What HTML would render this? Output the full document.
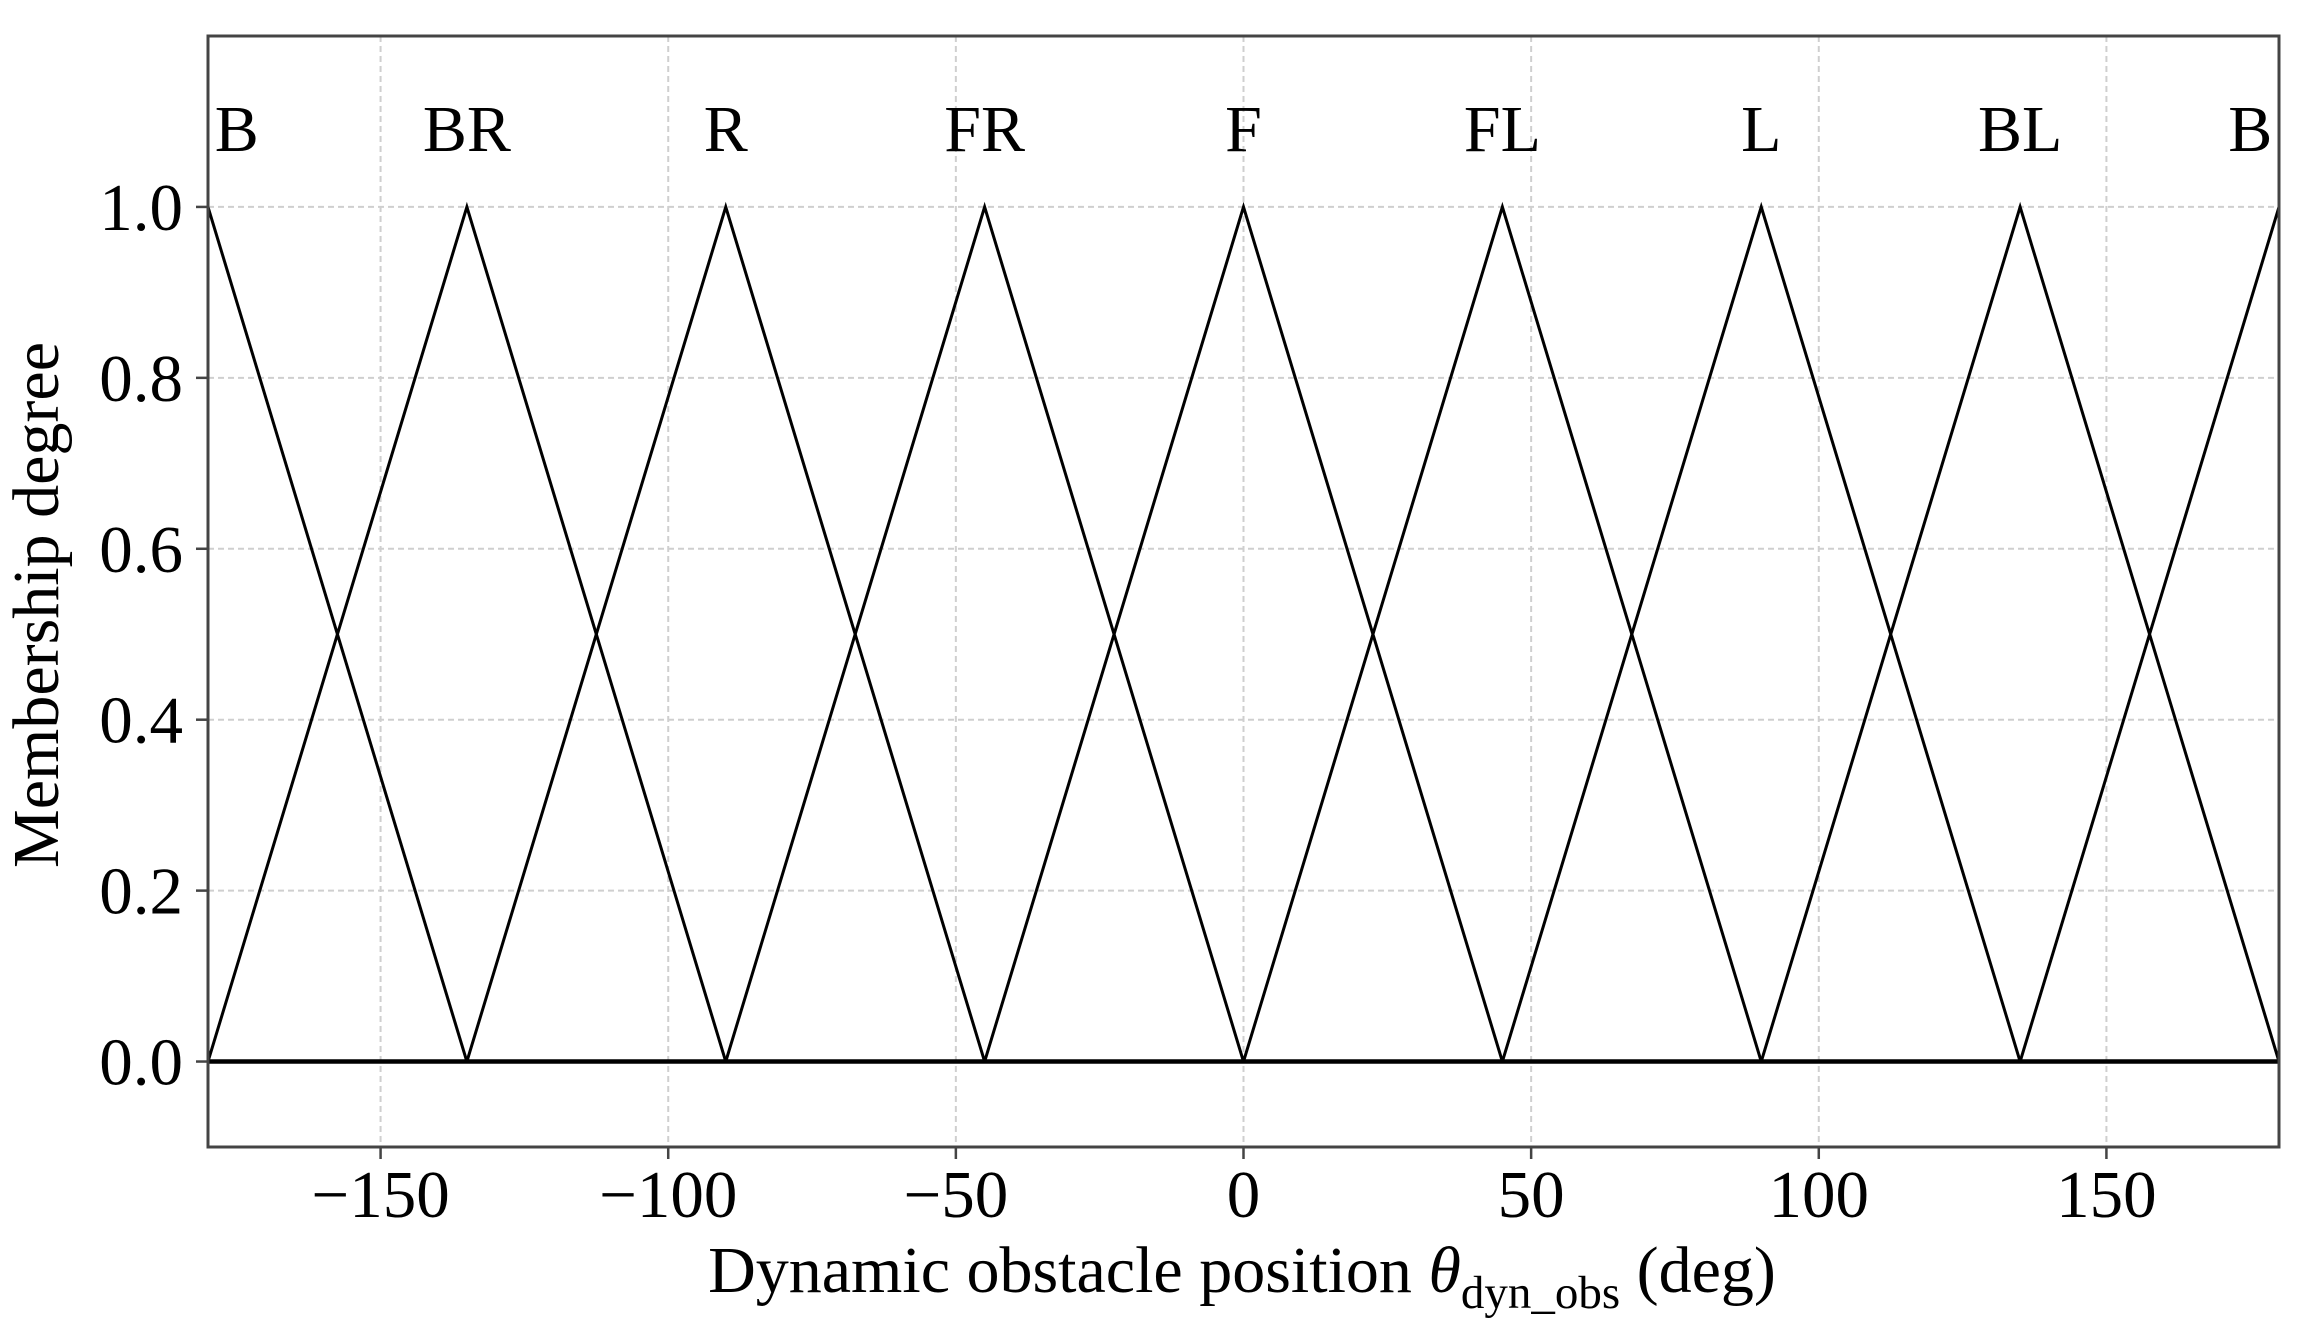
<!DOCTYPE html>
<html><head><meta charset="utf-8"><style>
html,body{margin:0;padding:0;background:#fff;}
svg{display:block;font-family:"Liberation Serif","Times New Roman",serif;}
</style></head><body>
<svg id="chart" width="2314" height="1342" viewBox="0 0 2314 1342" xmlns="http://www.w3.org/2000/svg">
<g id="grid"></g>
<g id="series"></g>
<g id="axes"></g>
<text x="1242" y="1292" font-size="66" text-anchor="middle">Dynamic obstacle position <tspan font-style="italic">θ</tspan><tspan font-size="47" dy="16">dyn_obs</tspan><tspan dy="-16"> (deg)</tspan></text>
<text transform="translate(58,605) rotate(-90)" font-size="66" text-anchor="middle">Membership degree</text>
</svg>
<script>
const labels = ["B","BR","R","FR","F","FL","L","BL","B"];
const centers = [-180,-135,-90,-45,0,45,90,135,180];
const labelPos = [-175,-135,-90,-45,0,45,90,135,175];
const halfWidth = 45;
const xTicks = [-150,-100,-50,0,50,100,150];
const yTicks = [0,0.2,0.4,0.6,0.8,1.0];
const xMin=-180,xMax=180,yMin=-0.1,yMax=1.2;
const L=208,R=2279,T=36,B=1147;
const sx=v=>L+(v-xMin)/(xMax-xMin)*(R-L);
const sy=v=>B-(v-yMin)/(yMax-yMin)*(B-T);
const NS="http://www.w3.org/2000/svg";
function mk(tag,attrs,parent){const e=document.createElementNS(NS,tag);for(const k in attrs)e.setAttribute(k,attrs[k]);parent.appendChild(e);return e;}
const grid=document.getElementById('grid'),series=document.getElementById('series'),axes=document.getElementById('axes');
xTicks.forEach(t=>{
  const g=mk('line',{x1:sx(t),x2:sx(t),y1:T,y2:B,stroke:'#cfcfcf','stroke-width':2,'stroke-dasharray':'6,4'},grid);
  
  
  const tk=mk('line',{x1:sx(t),x2:sx(t),y1:B,y2:B+12,stroke:'#444','stroke-width':2.5},axes);
  
  
  const tx=mk('text',{x:sx(t),y:1217,'font-size':67,'text-anchor':'middle'},axes);
  tx.textContent=t<0?'\u2212'+Math.abs(t):String(t);
  
  
});
yTicks.forEach(t=>{
  const g=mk('line',{x1:L,x2:R,y1:sy(t),y2:sy(t),stroke:'#cfcfcf','stroke-width':2,'stroke-dasharray':'6,4'},grid);
  
  
  const tk=mk('line',{x1:L-12,x2:L,y1:sy(t),y2:sy(t),stroke:'#444','stroke-width':2.5},axes);
  
  
  const tx=mk('text',{x:183,y:sy(t)+23,'font-size':67,'text-anchor':'end'},axes);
  tx.textContent=t.toFixed(1);
  
  
});
const zl=mk('line',{x1:L,x2:R,y1:sy(0),y2:sy(0),stroke:'#000','stroke-width':4.5},series);


centers.forEach((c,i)=>{
  const a=Math.max(c-halfWidth,xMin),b=Math.min(c+halfWidth,xMax);
  const ya=1-Math.abs(a-c)/halfWidth,yb=1-Math.abs(b-c)/halfWidth;
  const p=mk('polyline',{points:`${sx(a)},${sy(ya)} ${sx(c)},${sy(1)} ${sx(b)},${sy(yb)}`,fill:'none',stroke:'#000','stroke-width':3},series);
  
  
  const t=mk('text',{x:sx(labelPos[i]),y:151,'font-size':66,'text-anchor':'middle'},series);
  t.textContent=labels[i];
  
  
});
const fr=mk('rect',{x:L,y:T,width:R-L,height:B-T,fill:'none',stroke:'#444','stroke-width':3},axes);


</script>
</body></html>
